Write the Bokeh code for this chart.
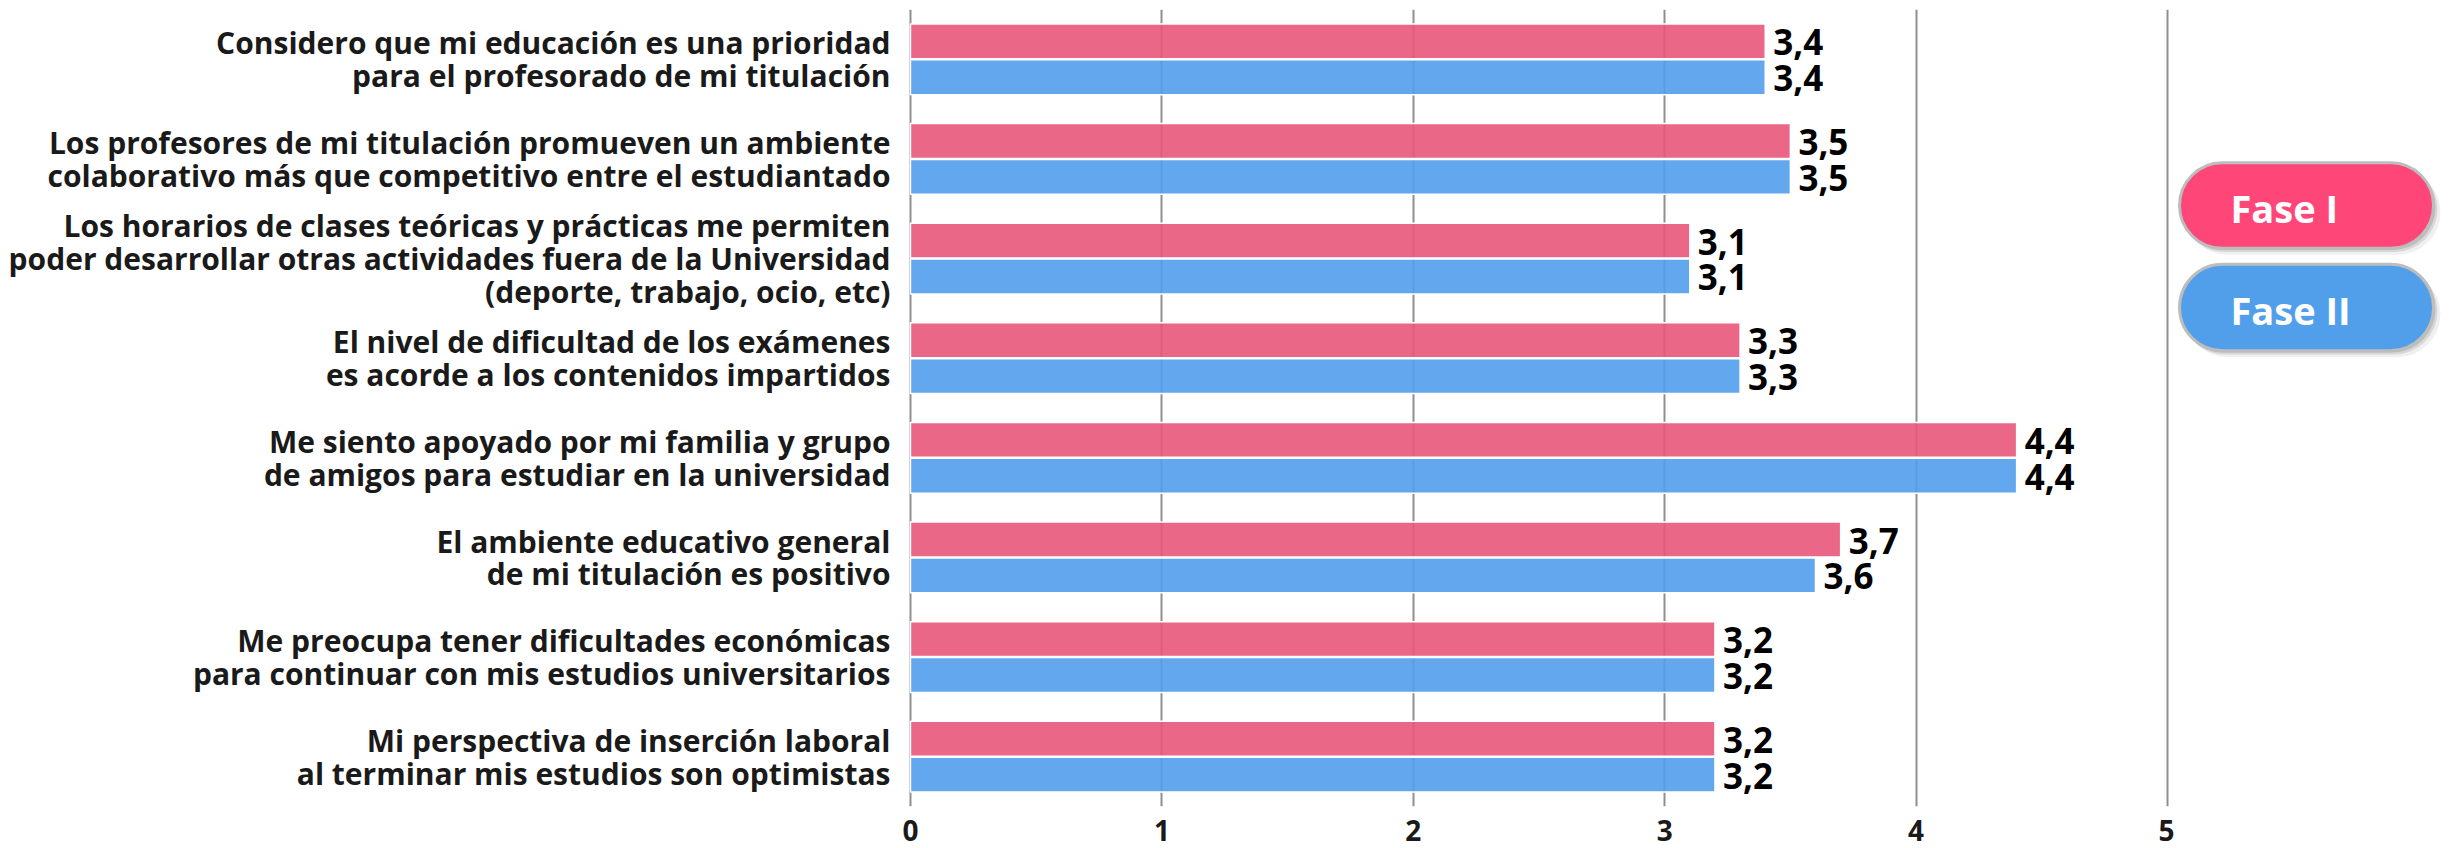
from bokeh.plotting import figure
from bokeh.models import FactorRange, Range1d, FixedTicker, ColumnDataSource
from bokeh.transform import dodge
from bokeh.layouts import row
from bokeh.embed import file_html
from bokeh.resources import INLINE
from bokeh.core.properties import value

# ---------------- data ----------------
categories = [
    "Considero que mi educación es una prioridad\npara el profesorado de mi titulación",
    "Los profesores de mi titulación promueven un ambiente\ncolaborativo más que competitivo entre el estudiantado",
    "Los horarios de clases teóricas y prácticas me permiten\npoder desarrollar otras actividades fuera de la Universidad\n(deporte, trabajo, ocio, etc)",
    "El nivel de dificultad de los exámenes\nes acorde a los contenidos impartidos",
    "Me siento apoyado por mi familia y grupo\nde amigos para estudiar en la universidad",
    "El ambiente educativo general\nde mi titulación es positivo",
    "Me preocupa tener dificultades económicas\npara continuar con mis estudios universitarios",
    "Mi perspectiva de inserción laboral\nal terminar mis estudios son optimistas",
]
fase_1 = [3.4, 3.5, 3.1, 3.3, 4.4, 3.7, 3.2, 3.2]
fase_2 = [3.4, 3.5, 3.1, 3.3, 4.4, 3.6, 3.2, 3.2]
series_names = ["Fase I", "Fase II"]
x_ticks = [0, 1, 2, 3, 4, 5]

# ---------------- style ----------------
FONT = "Open Sans"
PINK_BAR = "#E8567B"
BLUE_BAR = "#529DEC"
PINK_LEG = "#FE4679"
BLUE_LEG = "#519FEB"
GRID = "#8F8F8F"
TEXT = "#1A1A1A"

def fmt(v):
    return f"{v:.1f}".replace(".", ",")

src = ColumnDataSource(dict(
    cat=categories, f1=fase_1, f2=fase_2,
    l1=[fmt(v) for v in fase_1], l2=[fmt(v) for v in fase_2],
))

MAIN_W, H = 2174, 848
p = figure(
    width=MAIN_W, height=H,
    y_range=FactorRange(factors=list(reversed(categories))),
    x_range=Range1d(-0.008, 5.028),
    output_backend="svg", toolbar_location=None,
    min_border_left=908, min_border_right=0, min_border_top=9, min_border_bottom=42,
)
p.outline_line_color = None
p.background_fill_color = "white"

p.hbar(y=dodge("cat", 0.18, range=p.y_range), left=0, right="f1", height=0.35,
       source=src, fill_color=PINK_BAR, fill_alpha=0.9, line_color="white", line_width=1.5)
p.hbar(y=dodge("cat", -0.18, range=p.y_range), left=0, right="f2", height=0.35,
       source=src, fill_color=BLUE_BAR, fill_alpha=0.9, line_color="white", line_width=1.5)

for col, lab, off in (("f1", "l1", 0.18), ("f2", "l2", -0.18)):
    p.text(x=col, y=dodge("cat", off, range=p.y_range), text=lab, source=src,
           x_offset=8, y_offset=1, text_baseline="middle", text_align="left",
           text_font=value(FONT), text_font_style="bold", text_font_size="35px",
           text_color="black")

p.xaxis.ticker = FixedTicker(ticks=x_ticks)
p.xgrid.ticker = FixedTicker(ticks=x_ticks)
p.xgrid.grid_line_color = GRID
p.xgrid.grid_line_width = 2
p.ygrid.grid_line_color = None

p.xaxis.axis_line_color = None
p.xaxis.major_tick_line_color = None
p.xaxis.minor_tick_line_color = None
p.xaxis.major_label_standoff = 7
p.xaxis.major_label_text_font = FONT
p.xaxis.major_label_text_font_style = "bold"
p.xaxis.major_label_text_font_size = "28px"
p.xaxis.major_label_text_color = TEXT
p.xaxis.major_label_text_line_height = 0.7

p.yaxis.axis_line_color = None
p.yaxis.major_tick_line_color = None
p.yaxis.minor_tick_line_color = None
p.yaxis.major_label_standoff = 12
p.yaxis.major_label_text_font = FONT
p.yaxis.major_label_text_font_style = "bold"
p.yaxis.major_label_text_font_size = "30px"
p.yaxis.major_label_text_color = TEXT
p.yaxis.major_label_text_line_height = 0.8

# ---------------- legend panel ----------------
LW = 2453 - MAIN_W
lf = figure(width=LW, height=H, x_range=Range1d(0, LW), y_range=Range1d(H, 0),
            output_backend="svg", toolbar_location=None,
            min_border_left=0, min_border_right=0, min_border_top=0, min_border_bottom=0)
lf.axis.visible = False
lf.grid.grid_line_color = None
lf.outline_line_color = None

PILL_L, PILL_R = 5, 259
pills = [(163, 254), (271, 363)]
pill_colors = [PINK_LEG, BLUE_LEG]
for (top, bot), col, name in zip(pills, pill_colors, series_names):
    for d, a in ((7, 0.06), (4, 0.10), (2, 0.12)):
        lf.quad(left=PILL_L + d - 2, right=PILL_R + d, top=top + d, bottom=bot + d,
                border_radius=46, fill_color="#000000", fill_alpha=a, line_color=None)
    lf.quad(left=PILL_L, right=PILL_R, top=top, bottom=bot, border_radius=46,
            fill_color=col, line_color="#BDBDBD", line_width=3)
    lf.text(x=[56], y=[(top + bot) / 2 + 3], text=[name], text_baseline="middle",
            text_align="left", text_font=value(FONT), text_font_style="bold",
            text_font_size="38px", text_color="white")

layout = row(p, lf)
open("out.html", "w").write(file_html(layout, INLINE))
